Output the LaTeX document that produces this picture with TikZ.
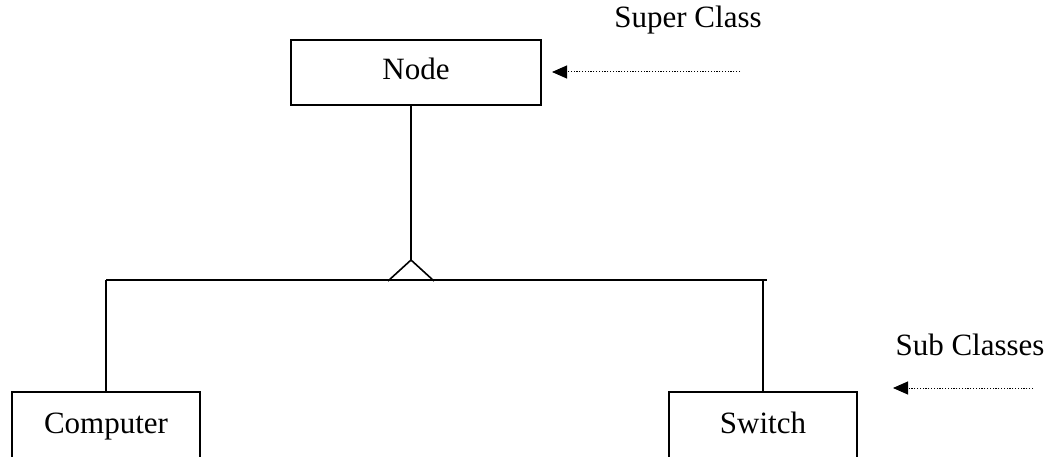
\documentclass[tikz,border=0pt]{standalone}
\usepackage{fontspec}
\setmainfont{Liberation Serif}
\usetikzlibrary{arrows.meta}
\tikzset{
  classbox/.style={draw, line width=1.6pt, minimum width=188pt, minimum height=68pt, inner sep=0pt, text height=21pt, text depth=7pt, font=\fontsize{31}{36}\selectfont},
  conn/.style={line width=1.6pt},
  note/.style={font=\fontsize{31}{36}\selectfont, inner sep=0pt},
  pointer/.style={line width=1pt, dash pattern=on 1.2pt off 1.6pt, -{Triangle[length=15pt,width=13pt]}}
}
\begin{document}
\begin{tikzpicture}[x=1pt,y=-1pt]
\useasboundingbox (0,0) rectangle (1055,457);
\begin{scope}
\clip (0,0) rectangle (1055,457);
\node[classbox, minimum width=250pt, minimum height=65pt] (node) at (416,72.5) {Node};
\node[classbox] (computer) at (106,426) {Computer};
\node[classbox] (switch) at (763,426) {Switch};
\coordinate (apex) at (411,260);
\coordinate (tl) at (388,281);
\coordinate (tr) at (434,281);
\coordinate (hl) at (106,280);
\coordinate (hr) at (767,280);
\draw[conn] (node.south -| apex) -- (apex);
\draw[conn] (tl) -- (apex) -- (tr);
\draw[conn] (hl) -- (hr);
\draw[conn] (hl) -- (computer.north);
\draw[conn] (switch.north |- hr) -- (switch.north);
\node[note] (super) at (688,20) {Super Class};
\node[note] (sub) at (970,345) {Sub Classes};
\coordinate (superend) at (740,72);
\coordinate (subend) at (1033,388);
\draw[pointer] (superend) -- (552,72) coordinate (supertip);
\draw[pointer] (subend) -- (893,388) coordinate (subtip);
\end{scope}
\end{tikzpicture}
\end{document}
